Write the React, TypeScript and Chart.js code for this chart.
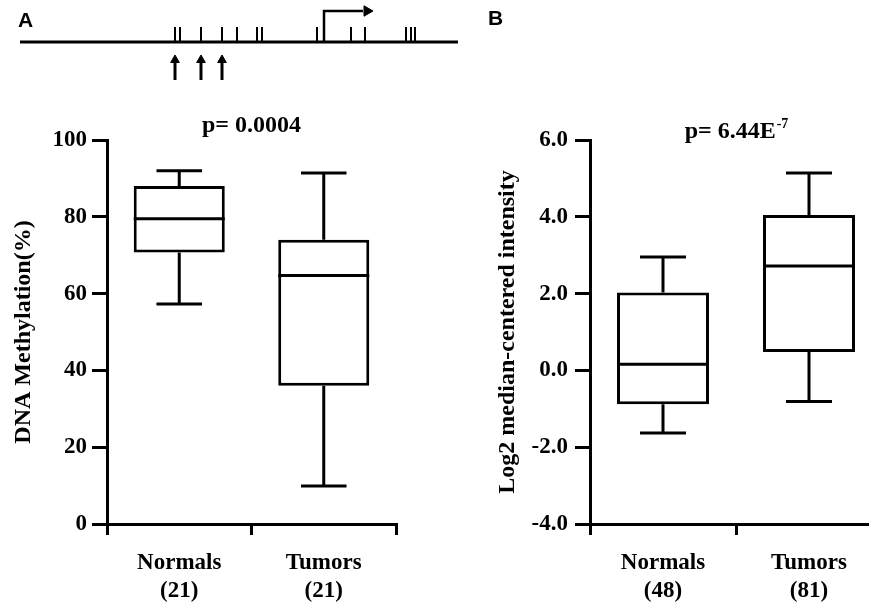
import React, { useEffect, useRef } from "react";
import { Chart, registerables } from "chart.js";

Chart.register(...registerables);

// ---------- Panel A: DNA methylation (box plot) ----------
const categoriesA = ["Normals", "Tumors"];
const countsA = [21, 21];
const methylMin = [57.3, 9.9];
const methylQ1 = [70.7, 36.0];
const methylMedian = [79.5, 64.7];
const methylQ3 = [88.0, 74.0];
const methylMax = [92.0, 91.4];
const methylAxis = { min: 0, max: 100, step: 20 };
const titleA = "DNA Methylation(%)";
const pValueA = "0.0004";

// ---------- Panel B: expression (box plot) ----------
const categoriesB = ["Normals", "Tumors"];
const countsB = [48, 81];
const intensityMin = [-1.63, -0.81];
const intensityQ1 = [-0.88, 0.48];
const intensityMedian = [0.16, 2.72];
const intensityQ3 = [2.03, 4.05];
const intensityMax = [2.95, 5.14];
const intensityAxis = { min: -4, max: 6, step: 2 };
const titleB = "Log2 median-centered intensity";
const pValueBMantissa = "6.44";
const pValueBExponent = "-7";

// ---------- Gene diagram (arbitrary position units) ----------
const regionLength = 438;
const cpgSites = [155, 160, 181, 202, 217, 237, 242, 297, 331, 345, 386, 391, 395];
const analyzedSites = [155, 181, 202];
const tssPosition = 304;
const tssArrowEnd = 343;
// track levels in the diagram's vertical units (0..100)
const trackBaseline = 58;
const trackCpG = 65.5;
const trackTss = 89;
const trackArrowShaft = 29;
const trackArrowHead = 40;

const SERIF = '"Liberation Serif", "Times New Roman", serif';
const SANS = '"Liberation Sans", Arial, sans-serif';

function boxWhiskerPlugin(mins: number[], medians: number[], maxs: number[], q1: number[], q3: number[]) {
  return {
    id: "boxWhiskers",
    afterDatasetsDraw(chart: any) {
      const { ctx } = chart;
      const y = chart.scales.y;
      const meta = chart.getDatasetMeta(0);
      ctx.save();
      ctx.strokeStyle = "#000";
      ctx.lineWidth = 3;
      ctx.lineCap = "butt";
      meta.data.forEach((bar: any, i: number) => {
        const { x, width } = bar.getProps(["x", "width"], true);
        const half = width / 2;
        const cap = width / 4;
        const yMed = y.getPixelForValue(medians[i]);
        const yQ1 = y.getPixelForValue(q1[i]);
        const yQ3 = y.getPixelForValue(q3[i]);
        const yMin = y.getPixelForValue(mins[i]);
        const yMax = y.getPixelForValue(maxs[i]);
        ctx.beginPath();
        ctx.moveTo(x - half, yMed);
        ctx.lineTo(x + half, yMed);
        ctx.moveTo(x, yQ3);
        ctx.lineTo(x, yMax);
        ctx.moveTo(x - cap, yMax);
        ctx.lineTo(x + cap, yMax);
        ctx.moveTo(x, yQ1);
        ctx.lineTo(x, yMin);
        ctx.moveTo(x - cap, yMin);
        ctx.lineTo(x + cap, yMin);
        ctx.stroke();
      });
      ctx.restore();
    },
  };
}

function annotationPlugin(panel: string, panelPos: [number, number], pMain: string, pSup: string, pBaseline: number) {
  return {
    id: "panelText",
    afterDraw(chart: any) {
      const { ctx, chartArea } = chart;
      ctx.save();
      ctx.fillStyle = "#000";
      ctx.textBaseline = "alphabetic";
      ctx.textAlign = "left";
      ctx.font = `bold 21px ${SANS}`;
      ctx.fillText(panel, panelPos[0], panelPos[1]);
      const cx = (chartArea.left + chartArea.right) / 2;
      ctx.font = `bold 24px ${SERIF}`;
      const wMain = ctx.measureText(pMain).width;
      ctx.font = `bold 14px ${SERIF}`;
      const wSup = pSup ? ctx.measureText(pSup).width : 0;
      const start = cx - (wMain + wSup) / 2;
      ctx.font = `bold 24px ${SERIF}`;
      ctx.fillText(pMain, start, pBaseline);
      if (pSup) {
        ctx.font = `bold 14px ${SERIF}`;
        ctx.fillText(pSup, start + wMain + 1, pBaseline - 10);
      }
      ctx.restore();
    },
  };
}

function boxConfig(opts: {
  categories: string[];
  counts: number[];
  mins: number[];
  q1: number[];
  medians: number[];
  q3: number[];
  maxs: number[];
  axis: { min: number; max: number; step: number };
  decimals: number;
  title: string;
  padLeft: number;
  padRight: number;
  yWidth: number;
  tickPad: number;
  titlePad: number;
  panel: string;
  panelPos: [number, number];
  pMain: string;
  pSup: string;
  pBaseline: number;
}) {
  const tickFont = { family: SERIF, weight: "bold" as const, size: 23, lineHeight: 1.22 };
  return {
    type: "bar" as const,
    data: {
      labels: opts.categories.map((c, i) => [c, `(${opts.counts[i]})`]),
      datasets: [
        {
          data: opts.q1.map((v, i) => [v, opts.q3[i]]),
          backgroundColor: "#fff",
          borderColor: "#000",
          borderWidth: 3,
          borderSkipped: false,
          barPercentage: 0.63,
          categoryPercentage: 1,
        },
      ],
    },
    options: {
      animation: false,
      responsive: false,
      devicePixelRatio: 1,
      events: [],
      layout: { padding: { left: opts.padLeft, right: opts.padRight, top: 140, bottom: 0 } },
      plugins: { legend: { display: false }, tooltip: { enabled: false } },
      scales: {
        x: {
          offset: true,
          grid: {
            display: true,
            drawOnChartArea: false,
            drawTicks: true,
            tickLength: 11,
            lineWidth: 3,
            color: "#000",
            offset: true,
          },
          border: { display: true, color: "#000", width: 3 },
          ticks: { color: "#000", font: tickFont, padding: 14, maxRotation: 0, minRotation: 0, autoSkip: false },
          afterFit: (s: any) => {
            s.height = 80;
          },
        },
        y: {
          min: opts.axis.min,
          max: opts.axis.max,
          grid: { display: true, drawOnChartArea: false, drawTicks: true, tickLength: 15, lineWidth: 3, color: "#000" },
          border: { display: true, color: "#000", width: 3 },
          ticks: {
            stepSize: opts.axis.step,
            color: "#000",
            font: { family: SERIF, weight: "bold" as const, size: 23 },
            padding: opts.tickPad,
            callback: (v: any) => Number(v).toFixed(opts.decimals),
          },
          title: {
            display: true,
            text: opts.title,
            color: "#000",
            font: { family: SERIF, weight: "bold" as const, size: 24 },
            padding: { top: opts.titlePad, bottom: 0 },
          },
          afterFit: (s: any) => {
            s.width = opts.yWidth;
          },
        },
      },
    },
    plugins: [
      boxWhiskerPlugin(opts.mins, opts.medians, opts.maxs, opts.q1, opts.q3),
      annotationPlugin(opts.panel, opts.panelPos, opts.pMain, opts.pSup, opts.pBaseline),
    ],
  };
}

function diagramConfig() {
  const black = "#000";
  return {
    type: "scatter" as const,
    data: {
      datasets: [
        {
          type: "line" as const,
          data: [
            { x: 0, y: trackBaseline },
            { x: regionLength, y: trackBaseline },
          ],
          borderColor: black,
          borderWidth: 3,
          pointRadius: 0,
          clip: false,
        },
        {
          data: cpgSites.map((x) => ({ x, y: trackCpG })),
          pointStyle: "line",
          pointRotation: 90,
          pointRadius: 7.5,
          pointBorderWidth: 2,
          pointBorderColor: black,
          clip: false,
        },
        {
          type: "line" as const,
          data: [
            { x: tssPosition, y: trackBaseline },
            { x: tssPosition, y: trackTss },
            { x: tssArrowEnd, y: trackTss },
          ],
          borderColor: black,
          borderWidth: 2.5,
          pointRadius: 0,
          clip: false,
        },
        {
          data: [{ x: tssArrowEnd + 4, y: trackTss }],
          pointStyle: "triangle",
          pointRotation: 90,
          pointRadius: 6,
          pointBackgroundColor: black,
          pointBorderColor: black,
          pointBorderWidth: 1,
          clip: false,
        },
        {
          data: analyzedSites.map((x) => ({ x, y: trackArrowShaft })),
          pointStyle: "line",
          pointRotation: 90,
          pointRadius: 9,
          pointBorderWidth: 3,
          pointBorderColor: black,
          clip: false,
        },
        {
          data: analyzedSites.map((x) => ({ x, y: trackArrowHead })),
          pointStyle: "triangle",
          pointRadius: 5,
          pointBackgroundColor: black,
          pointBorderColor: black,
          pointBorderWidth: 1,
          clip: false,
        },
      ],
    },
    options: {
      animation: false,
      responsive: false,
      devicePixelRatio: 1,
      events: [],
      layout: { autoPadding: false, padding: { left: 20, right: 10, top: 0, bottom: 0 } },
      plugins: { legend: { display: false }, tooltip: { enabled: false } },
      scales: {
        x: { type: "linear" as const, min: 0, max: 440, display: false },
        y: { type: "linear" as const, min: 0, max: 100, display: false },
      },
    },
  };
}

export default function App() {
  const refA = useRef<HTMLCanvasElement>(null);
  const refB = useRef<HTMLCanvasElement>(null);
  const refD = useRef<HTMLCanvasElement>(null);

  useEffect(() => {
    const charts: Chart[] = [];
    if (refA.current) {
      charts.push(
        new Chart(
          refA.current,
          boxConfig({
            categories: categoriesA,
            counts: countsA,
            mins: methylMin,
            q1: methylQ1,
            medians: methylMedian,
            q3: methylQ3,
            maxs: methylMax,
            axis: methylAxis,
            decimals: 0,
            title: titleA,
            padLeft: 0,
            padRight: 44,
            yWidth: 107,
            tickPad: 5,
            titlePad: 9,
            panel: "A",
            panelPos: [18, 27],
            pMain: `p= ${pValueA}`,
            pSup: "",
            pBaseline: 132,
          }) as any
        )
      );
    }
    if (refB.current) {
      charts.push(
        new Chart(
          refB.current,
          boxConfig({
            categories: categoriesB,
            counts: countsB,
            mins: intensityMin,
            q1: intensityQ1,
            medians: intensityMedian,
            q3: intensityQ3,
            maxs: intensityMax,
            axis: intensityAxis,
            decimals: 1,
            title: titleB,
            padLeft: 45,
            padRight: 3,
            yWidth: 105,
            tickPad: 7,
            titlePad: 8,
            panel: "B",
            panelPos: [48, 25],
            pMain: `p= ${pValueBMantissa}E`,
            pSup: pValueBExponent,
            pBaseline: 138,
          }) as any
        )
      );
    }
    if (refD.current) {
      charts.push(new Chart(refD.current, diagramConfig() as any));
    }
    return () => charts.forEach((c) => c.destroy());
  }, []);

  return (
    <div
      style={{
        position: "absolute",
        left: 0,
        top: 0,
        width: 869,
        height: 604,
        overflow: "hidden",
        background: "#fff",
      }}
    >
      <canvas
        ref={refA}
        width={440}
        height={604}
        style={{ position: "absolute", left: 0, top: 0, width: 440, height: 604 }}
      />
      <canvas
        ref={refB}
        width={445}
        height={604}
        style={{ position: "absolute", left: 440, top: 0, width: 445, height: 604 }}
      />
      <canvas
        ref={refD}
        width={470}
        height={100}
        style={{ position: "absolute", left: 0, top: 0, width: 470, height: 100, pointerEvents: "none" }}
      />
    </div>
  );
}
